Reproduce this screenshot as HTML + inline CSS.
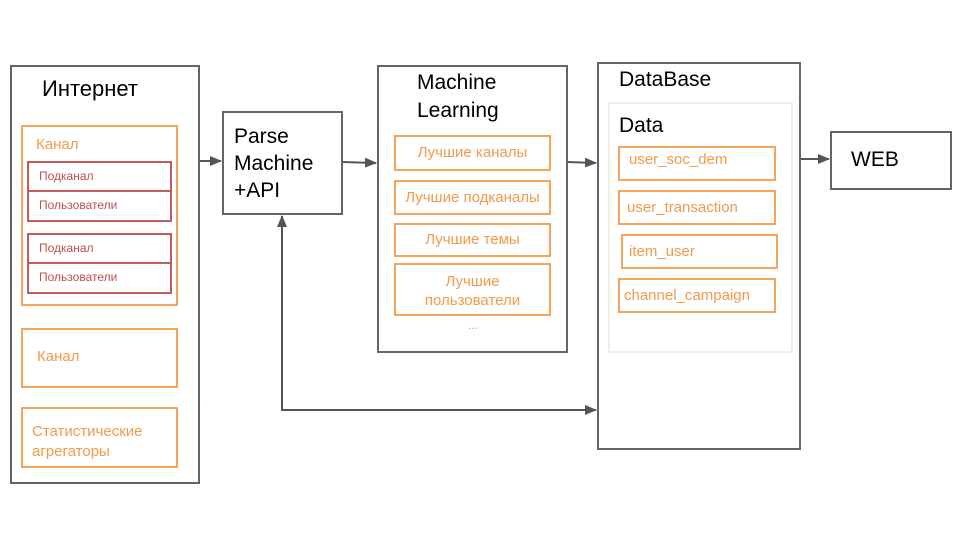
<!DOCTYPE html>
<html><head><meta charset="utf-8"><style>
body{margin:0;width:960px;height:540px;background:#fff;position:relative;overflow:hidden;font-family:"Liberation Sans","DejaVu Sans",sans-serif}
.b{position:absolute;box-sizing:border-box}
.g{border:2px solid #666}
.o{border:2px solid #f6a45c;color:#f39a4c}
.r{border:2px solid #c55a5a;color:#c0504d;font-size:12px;padding-left:10px;line-height:26px}
.t{position:absolute;white-space:nowrap}
.oi{font-size:15px;text-align:center}
</style></head><body>
<svg class="b" style="left:0;top:0" width="960" height="540">
<defs><marker id="a" markerWidth="12" markerHeight="10" refX="11" refY="5" orient="auto" markerUnits="userSpaceOnUse"><path d="M0,0L12,5L0,10z" fill="#555"/></marker></defs>
<g stroke="#555" stroke-width="2" fill="none">
<line x1="199" y1="161" x2="221" y2="161" marker-end="url(#a)"/>
<line x1="342" y1="162" x2="376" y2="163" marker-end="url(#a)"/>
<line x1="567" y1="162" x2="596" y2="163" marker-end="url(#a)"/>
<line x1="800" y1="159" x2="829" y2="159" marker-end="url(#a)"/>
<polyline points="282,410 282,216" marker-end="url(#a)"/>
<line x1="281" y1="410" x2="596" y2="410" marker-end="url(#a)"/>
</g></svg>
<div class="b g" style="left:10px;top:65px;width:190px;height:419px"></div>
<div class="t" style="left:42px;top:76px;font-size:22px">Интернет</div>
<div class="b o" style="left:21px;top:125px;width:157px;height:181px"></div>
<div class="t" style="left:36px;top:136px;font-size:15px;color:#f39a4c">Канал</div>
<div class="b r" style="left:27px;top:161px;width:145px;height:31px">Подканал</div>
<div class="b r" style="left:27px;top:190px;width:145px;height:32px">Пользователи</div>
<div class="b r" style="left:27px;top:233px;width:145px;height:31px">Подканал</div>
<div class="b r" style="left:27px;top:262px;width:145px;height:32px">Пользователи</div>
<div class="b o" style="left:21px;top:328px;width:157px;height:60px;font-size:15px;padding:18px 0 0 14px">Канал</div>
<div class="b o" style="left:21px;top:407px;width:157px;height:61px;font-size:15px;padding:13px 0 0 9px;line-height:20px">Статистические<br>агрегаторы</div>
<div class="b g" style="left:222px;top:111px;width:121px;height:104px;font-size:21px;padding:10px 0 0 10px;line-height:27px">Parse<br>Machine<br>+API</div>
<div class="b g" style="left:377px;top:65px;width:191px;height:288px"></div>
<div class="t" style="left:417px;top:69px;font-size:21px;line-height:28px">Machine<br>Learning</div>
<div class="b o oi" style="left:394px;top:135px;width:157px;height:36px;line-height:32px">Лучшие каналы</div>
<div class="b o oi" style="left:394px;top:180px;width:157px;height:35px;line-height:31px">Лучшие подканалы</div>
<div class="b o oi" style="left:394px;top:223px;width:157px;height:34px;line-height:30px">Лучшие темы</div>
<div class="b o oi" style="left:394px;top:263px;width:157px;height:53px;line-height:19px;padding-top:7px">Лучшие<br>пользователи</div>
<div class="t" style="left:468px;top:318px;font-size:12px;color:#f39a4c">...</div>
<div class="b g" style="left:597px;top:62px;width:204px;height:388px"></div>
<div class="t" style="left:619px;top:68px;font-size:21px">DataBase</div>
<div class="b" style="left:608px;top:102px;width:185px;height:251px;border:2px solid #f1efe4"></div>
<div class="t" style="left:619px;top:114px;font-size:21px">Data</div>
<div class="b o" style="left:618px;top:146px;width:158px;height:35px;font-size:15px;padding:3px 0 0 9px">user_soc_dem</div>
<div class="b o" style="left:618px;top:190px;width:158px;height:35px;font-size:15px;padding:7px 0 0 7px">user_transaction</div>
<div class="b o" style="left:621px;top:234px;width:157px;height:35px;font-size:15px;padding:7px 0 0 6px">item_user</div>
<div class="b o" style="left:618px;top:278px;width:158px;height:35px;font-size:15px;padding:7px 0 0 4px">channel_campaign</div>
<div class="b g" style="left:830px;top:131px;width:122px;height:59px;font-size:21px;padding:15px 0 0 19px">WEB</div>
</body></html>
